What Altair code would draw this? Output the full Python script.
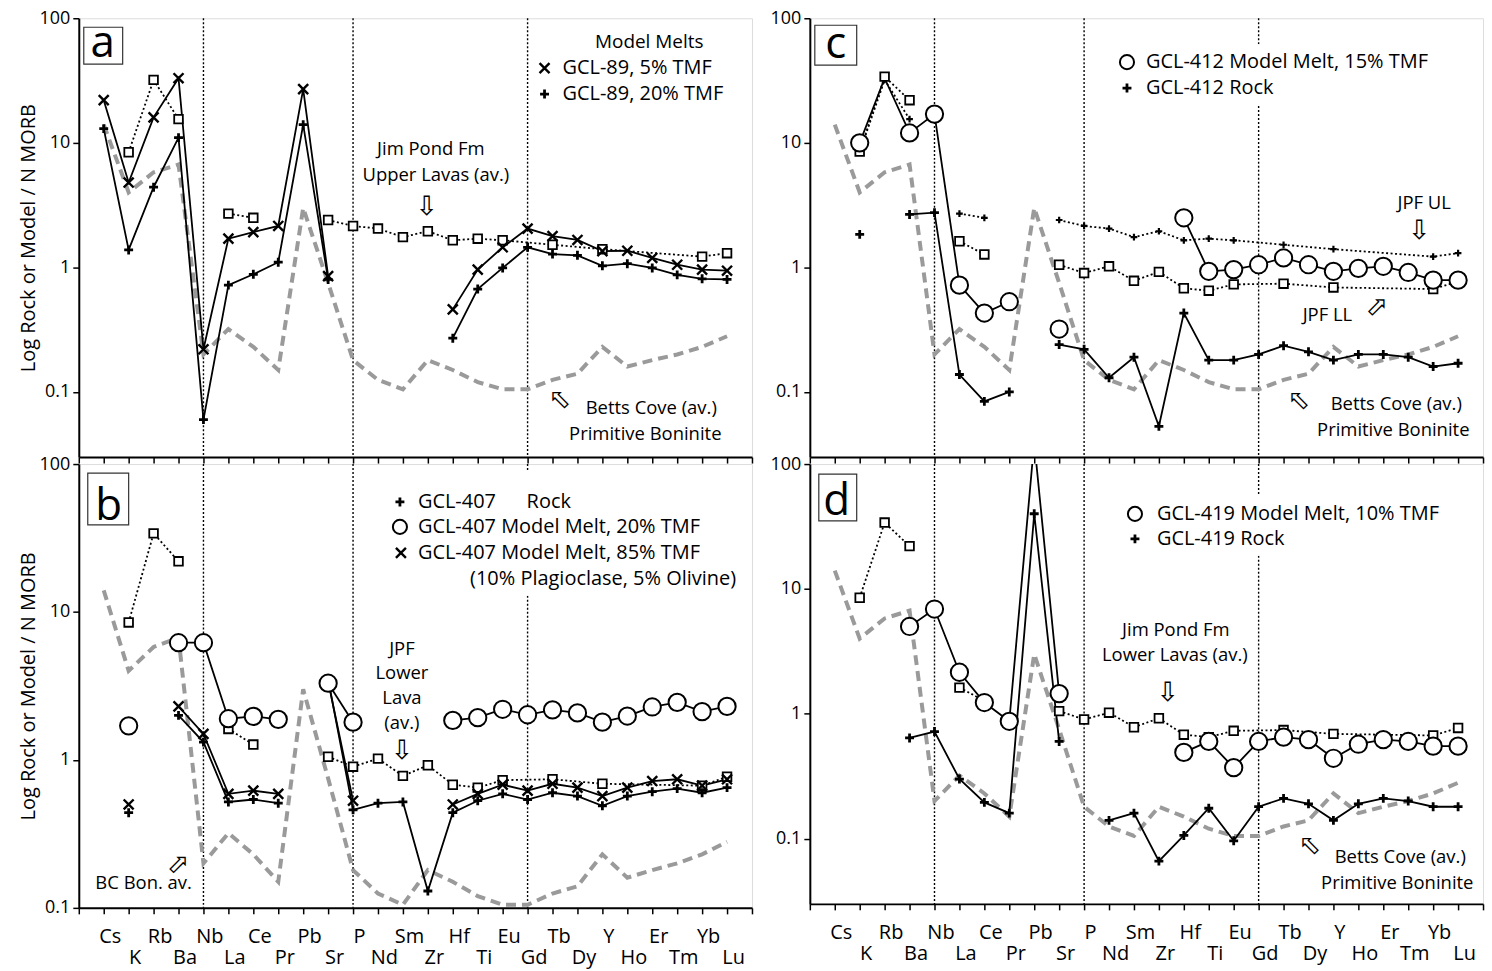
import altair as alt
import pandas as pd

# ---------------- data ----------------
ELEMENTS = ["Cs", "K", "Rb", "Ba", "Nb", "La", "Ce", "Pr", "Pb", "Sr", "P", "Nd", "Sm",
            "Zr", "Hf", "Ti", "Eu", "Gd", "Tb", "Dy", "Y", "Ho", "Er", "Tm", "Yb", "Lu"]
DIVIDERS = ["Nb", "P", "Gd"]
# elements not analysed in the JPF averages: dotted lines run straight across them
JOIN_ACROSS = ["Gd", "Dy", "Ho", "Er", "Tm"]
N = None

BETTS_COVE = [14, 4.0, 5.8, 6.7, 0.2, 0.32, 0.23, 0.15, 3.0, 0.75, 0.18, 0.125, 0.105,
              0.18, 0.15, 0.12, 0.105, 0.105, 0.125, 0.14, 0.23, 0.16, 0.18, 0.2, 0.23, 0.28]
JPF_UL = [N, 8.4, 32, 15.5, N, 2.7, 2.5, N, N, 2.4, 2.15, 2.05, 1.75,
          1.95, 1.65, 1.7, 1.65, N, 1.52, N, 1.4, N, N, N, 1.22, 1.3]
JPF_LL = [N, 8.5, 34, 22, N, 1.62, 1.27, N, N, 1.05, 0.9, 1.02, 0.78,
          0.92, 0.68, 0.65, 0.73, N, 0.74, N, 0.69, N, N, N, 0.67, 0.77]

# panel a
A_GCL89_5 = [22, 4.8, 16, 33, 0.22, 1.7, 1.92, 2.15, 27, 0.85, N, N, N,
             N, 0.46, 0.96, 1.45, 2.05, 1.78, 1.66, 1.35, 1.36, 1.19, 1.05, 0.96, 0.94]
A_GCL89_20 = [13, 1.38, 4.4, 11, 0.06, 0.72, 0.88, 1.1, 14, 0.8, N, N, N,
              N, 0.27, 0.67, 0.99, 1.45, 1.28, 1.25, 1.03, 1.07, 0.99, 0.87, 0.81, 0.8]
# panel b
B_ROCK = [N, 0.44, N, 2.0, 1.32, 0.52, 0.54, 0.51, N, 3.5, 0.46, 0.51, 0.52,
          0.13, 0.44, 0.53, 0.59, 0.54, 0.6, 0.57, 0.49, 0.57, 0.61, 0.64, 0.6, 0.65]
B_MELT20 = [N, 1.7, N, 6.2, 6.2, 1.9, 1.97, 1.88, N, 3.3, 1.8, N, N,
            N, 1.85, 1.93, 2.2, 2.02, 2.18, 2.08, 1.8, 1.98, 2.28, 2.45, 2.12, 2.3]
B_MELT85 = [N, 0.5, N, 2.3, 1.5, 0.59, 0.62, 0.59, N, 3.4, 0.53, N, N,
            N, 0.5, 0.59, 0.68, 0.62, 0.69, 0.65, 0.57, 0.65, 0.72, 0.74, 0.67, 0.74]
# panel c
C_MELT15 = [N, 10, 33, 12, 17, 0.72, 0.43, 0.53, N, 0.32, N, N, N,
            N, 2.5, 0.93, 0.96, 1.05, 1.19, 1.05, 0.93, 0.98, 1.02, 0.91, 0.79, 0.79]
C_MELT15_NOMARK = ["Rb"]
C_ROCK = [N, 1.84, N, 2.66, 2.75, 0.138, 0.084, 0.1, N, 0.24, 0.22, 0.13, 0.19,
          0.053, 0.43, 0.18, 0.18, 0.2, 0.235, 0.21, 0.18, 0.2, 0.2, 0.19, 0.16, 0.17]
# panel d
D_MELT10 = [N, N, N, 5.0, 6.9, 2.15, 1.23, 0.87, 150, 1.45, N, N, N,
            N, 0.49, 0.6, 0.37, 0.6, 0.65, 0.62, 0.44, 0.57, 0.62, 0.6, 0.55, 0.55]
D_ROCK = [N, N, N, 0.64, 0.72, 0.3, 0.195, 0.16, 40, 0.6, N, 0.14, 0.16,
          0.066, 0.106, 0.175, 0.096, 0.18, 0.21, 0.19, 0.14, 0.19, 0.21, 0.2, 0.18, 0.18]

# ---------------- helpers ----------------
FONT = "Open Sans"
NOTE = 18.5
LEG = 20
X_PATH = "M-1,-1L1,1M-1,1L1,-1"
PLUS_PATH = "M-1,0L1,0M0,-1L0,1"
MARKERS = {
    "x": dict(shape=X_PATH, size=100, filled=False, stroke="black", strokeWidth=2.4),
    "plus": dict(shape=PLUS_PATH, size=80, filled=False, stroke="black", strokeWidth=2.8),
    "smallplus": dict(shape=PLUS_PATH, size=45, filled=False, stroke="black", strokeWidth=2.2),
    "circle": dict(shape="circle", size=300, filled=True, fill="white", stroke="black", strokeWidth=2),
    "square": dict(shape="square", size=75, filled=True, fill="white", stroke="black", strokeWidth=1.8),
}
LINES = {
    "solid": dict(color="black", strokeWidth=1.8),
    "dotted": dict(color="black", strokeWidth=1.8, strokeDash=[2, 2.5]),
    "gray": dict(color="#9a9a9a", strokeWidth=4, strokeDash=[10, 6]),
}
DUMMY = pd.DataFrame({"k": [0]})

NAMES_JS = "[" + ",".join(f"'{e}'" for e in ELEMENTS) + "]"
LABEL_EXPR = (f"datum.value < 0 || datum.value > {len(ELEMENTS) - 1} ? '' : "
              f"(datum.value % 2 == 0 ? [{NAMES_JS}[datum.value], ''] : ['', {NAMES_JS}[datum.value]])")


def to_df(values, nomark=()):
    rows, seg, last = [], 0, None
    for i, v in enumerate(values):
        if v is None:
            continue
        if last is not None and i - last > 1:
            if not all(e in JOIN_ACROSS for e in ELEMENTS[last + 1:i]):
                seg += 1
        rows.append({"i": i, "el": ELEMENTS[i], "v": v, "seg": seg,
                     "m": ELEMENTS[i] not in nomark})
        last = i
    return pd.DataFrame(rows)


def txt(s, x, y, size=NOTE, align="center", font=FONT, angle=0, baseline="middle"):
    kw = dict(text=s, fontSize=size, align=align, font=font, baseline=baseline, color="black")
    if angle:
        kw["angle"] = angle
    return alt.Chart(DUMMY).mark_text(**kw).encode(x=alt.value(x), y=alt.value(y))


def sym(marker, x, y, size=None):
    kw = dict(MARKERS[marker])
    if size:
        kw["size"] = size
    return alt.Chart(DUMMY).mark_point(opacity=1, **kw).encode(x=alt.value(x), y=alt.value(y))


def arrow(x, y, angle=0):
    return txt("\u21e9", x, y, size=27, font="DejaVu Sans", angle=angle)


def rect(x1, x2, y1, y2, **kw):
    return alt.Chart(DUMMY).mark_rect(**kw).encode(
        x=alt.value(x1), x2=alt.value(x2), y=alt.value(y1), y2=alt.value(y2))


def box(letter, x1, x2, y1, y2, tx, ty):
    return [rect(x1, x2, y1, y2, fill="white", stroke="#333333", strokeWidth=1.2),
            txt(letter, tx, ty, size=44, baseline="alphabetic")]


def panel(ydomain, height, series, notes, masks, xlabels, ytitle):
    common_x = dict(values=list(range(-1, len(ELEMENTS) + 1)), tickSize=6, tickWidth=1.5,
                    tickColor="black", domainColor="black", domainWidth=2, grid=False, title=None)
    if xlabels:
        xaxis = alt.Axis(labelExpr=LABEL_EXPR, labelOffset=6, labelPadding=13, labelFontSize=20,
                         labelFont=FONT, labelColor="black", labelLineHeight=21,
                         labelOverlap=False, labelFlush=False, **common_x)
    else:
        xaxis = alt.Axis(labels=False, **common_x)
    yaxis = alt.Axis(values=[0.1, 1, 10, 100], format="~g", tickSize=6, tickWidth=1.5,
                     tickColor="black", domainColor="black", domainWidth=2, grid=False,
                     labelFont=FONT, labelFontSize=18, labelColor="black", labelPadding=3,
                     minExtent=40, maxExtent=40, title=ytitle, titleFont=FONT,
                     titleFontSize=20, titleFontWeight="normal", titleColor="black",
                     titlePadding=0)
    xenc = alt.X("i:Q", scale=alt.Scale(domain=[-1, len(ELEMENTS)], nice=False, zero=False), axis=xaxis)
    yenc = alt.Y("v:Q", scale=alt.Scale(type="log", domain=ydomain, nice=False), axis=yaxis)

    rules = alt.Chart(pd.DataFrame({"i": [ELEMENTS.index(e) for e in DIVIDERS]})).mark_rule(
        color="black", strokeWidth=1.4, strokeDash=[2, 2]).encode(x=xenc)
    mask_layers = [rect(*m, fill="white", strokeWidth=0) for m in masks]
    line_layers, point_layers = [], []
    for values, style, marker, nomark in series:
        df = to_df(values, nomark)
        line_layers.append(alt.Chart(df).mark_line(clip=True, **LINES[style]).encode(
            x=xenc, y=yenc, detail="seg:N"))
        if marker:
            point_layers.append(alt.Chart(df).transform_filter("datum.m").mark_point(
                clip=True, opacity=1, **MARKERS[marker]).encode(x=xenc, y=yenc))
    return alt.layer(rules, *mask_layers, *line_layers, *point_layers, *notes).properties(
        width=675, height=height)


YTITLE = "Log Rock or Model / N MORB"

pa = panel([0.03, 100], 440, [
    (BETTS_COVE, "gray", None, ()),
    (JPF_UL, "dotted", "square", ()),
    (A_GCL89_5, "solid", "x", ()),
    (A_GCL89_20, "solid", "plus", ()),
], box("a", 5, 44, 9, 46, 24, 39) + [
    txt("Model Melts", 572, 24, size=19),
    sym("x", 467, 50), txt("GCL-89, 5% TMF", 485, 50, size=LEG, align="left"),
    sym("plus", 467, 76), txt("GCL-89, 20% TMF", 485, 76, size=LEG, align="left"),
    txt("Jim Pond Fm", 353, 131), txt("Upper Lavas (av.)", 358, 157), arrow(349, 189),
    txt("Betts Cove (av.)", 574, 391), txt("Primitive Boninite", 568, 417), arrow(481, 381, 135),
], [], False, YTITLE)

pb = panel([0.1, 100], 445, [
    (BETTS_COVE, "gray", None, ()),
    (JPF_LL, "dotted", "square", ()),
    (B_ROCK, "solid", "plus", ()),
    (B_MELT85, "solid", "x", ()),
    (B_MELT20, "solid", "circle", ()),
], box("b", 9, 50, 9, 61, 30, 56) + [
    sym("plus", 322, 38), txt("GCL-407", 340, 38, size=LEG, align="left"),
    txt("Rock", 449, 38, size=LEG, align="left"),
    sym("circle", 322, 63, 200), txt("GCL-407 Model Melt, 20% TMF", 340, 63, size=LEG, align="left"),
    sym("x", 323, 89), txt("GCL-407 Model Melt, 85% TMF", 340, 89, size=LEG, align="left"),
    txt("(10% Plagioclase, 5% Olivine)", 659, 115, size=LEG, align="right"),
    txt("JPF", 324, 185), txt("Lower", 324, 210), txt("Lava", 324, 235), txt("(av.)", 324, 260),
    arrow(324, 288),
    txt("BC Bon. av.", 65, 420), arrow(101, 400, 225),
], [(300, 668, 8, 132)], True, YTITLE)

pc = panel([0.03, 100], 440, [
    (BETTS_COVE, "gray", None, ()),
    (JPF_UL, "dotted", "smallplus", ()),
    (JPF_LL, "dotted", "square", ()),
    (C_ROCK, "solid", "plus", ()),
    (C_MELT15, "solid", "circle", C_MELT15_NOMARK),
], box("c", 5, 47, 7, 47, 26, 40) + [
    sym("circle", 318, 44, 200), txt("GCL-412  Model Melt, 15% TMF", 337, 44, size=LEG, align="left"),
    sym("plus", 318, 70), txt("GCL-412  Rock", 337, 70, size=LEG, align="left"),
    txt("JPF UL", 616, 185), arrow(611, 213),
    txt("JPF LL", 519, 298), arrow(570, 288, 225),
    txt("Betts Cove (av.)", 588, 387), txt("Primitive Boninite", 585, 413), arrow(489, 382, 135),
], [(305, 672, 26, 88)], False, None)

pd_ = panel([0.03, 100], 441, [
    (BETTS_COVE, "gray", None, ()),
    (JPF_LL, "dotted", "square", ()),
    (D_ROCK, "solid", "plus", ()),
    (D_MELT10, "solid", "circle", ()),
], box("d", 9, 47, 10, 57, 27, 51) + [
    sym("circle", 326, 50, 200), txt("GCL-419  Model Melt, 10% TMF", 348, 50, size=LEG, align="left"),
    sym("plus", 326, 75), txt("GCL-419  Rock", 348, 75, size=LEG, align="left"),
    txt("Jim Pond Fm", 367, 166), txt("Lower Lavas (av.)", 366, 191), arrow(359, 230),
    txt("Betts Cove (av.)", 592, 394), txt("Primitive Boninite", 589, 420), arrow(500, 381, 135),
], [(305, 672, 30, 92)], True, None)

chart = alt.concat(pa, pc, pb, pd_, columns=2,
                   spacing=alt.RowColnumber(row=7, column=58), bounds="flush").properties(
    padding={"left": 18, "top": 7, "right": 2, "bottom": 0}
).configure_view(stroke="black", strokeWidth=2).configure(font=FONT)

chart.save("out.html", embed_options={"renderer": "svg", "actions": False})
